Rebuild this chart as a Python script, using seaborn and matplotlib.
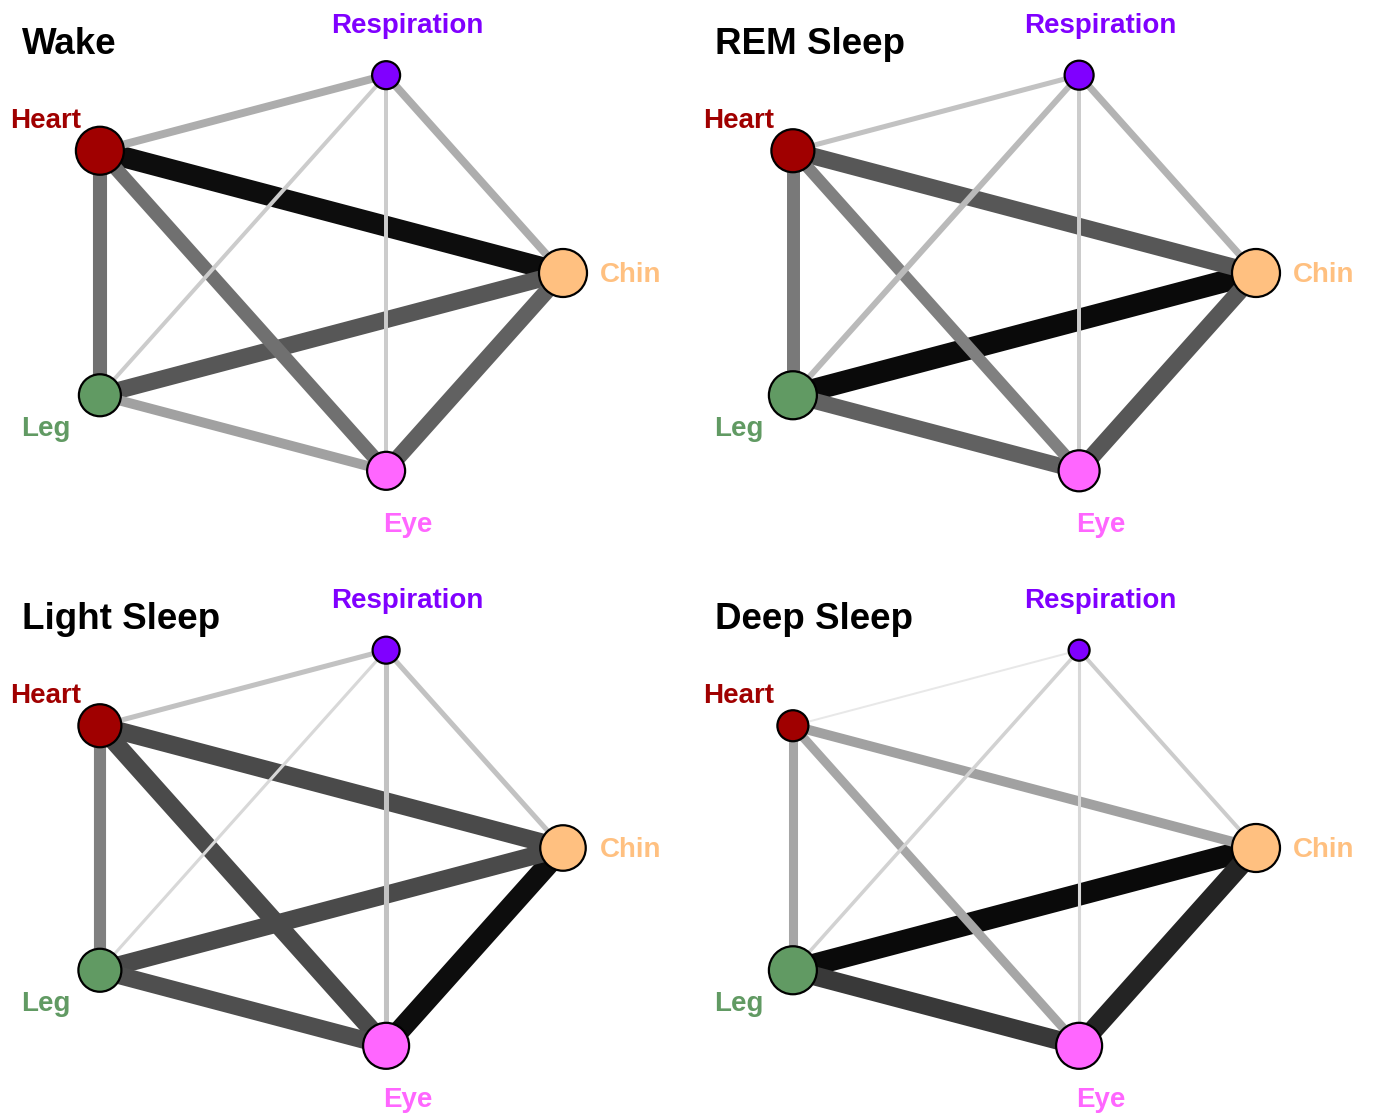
import numpy as np
import pandas as pd
import matplotlib
matplotlib.use("Agg")
import matplotlib.pyplot as plt
import seaborn as sns

sns.set_theme(style="white")
plt.rcParams["font.family"] = ["Liberation Sans", "DejaVu Sans"]

# ---- data -------------------------------------------------------------
stages = ["Wake", "REM Sleep", "Light Sleep", "Deep Sleep"]

# signals, listed counter-clockwise starting from the right-hand vertex
signals = ["Chin", "Respiration", "Heart", "Leg", "Eye"]
signal_colors = ["#FFC080", "#8000FF", "#A00000", "#619A63", "#FF66FF"]

edge_pairs = [
    ("Heart", "Respiration"), ("Heart", "Chin"), ("Heart", "Leg"), ("Heart", "Eye"),
    ("Respiration", "Chin"), ("Respiration", "Leg"), ("Respiration", "Eye"),
    ("Chin", "Leg"), ("Chin", "Eye"), ("Leg", "Eye"),
]

# coupling strength of each pair (same order as edge_pairs)
wake_edges = [0.36, 0.95, 0.64, 0.64, 0.36, 0.18, 0.18, 0.77, 0.73, 0.45]
rem_edges = [0.23, 0.77, 0.59, 0.55, 0.32, 0.27, 0.18, 1.00, 0.77, 0.73]
light_edges = [0.23, 0.82, 0.55, 0.82, 0.23, 0.14, 0.23, 0.82, 0.95, 0.80]
deep_edges = [0.09, 0.45, 0.41, 0.41, 0.18, 0.16, 0.14, 1.00, 0.91, 0.86]

# node strength per signal (same order as signals)
wake_nodes = [1.00, 0.60, 1.00, 0.88, 0.80]
rem_nodes = [1.00, 0.62, 0.90, 1.00, 0.86]
light_nodes = [0.95, 0.58, 0.90, 0.90, 0.96]
deep_nodes = [1.00, 0.46, 0.66, 1.00, 0.96]

stage_edges = [wake_edges, rem_edges, light_edges, deep_edges]
stage_nodes = [wake_nodes, rem_nodes, light_nodes, deep_nodes]

# ---- layout & scales --------------------------------------------------
W, H = 1373, 1117
PT = 0.72                      # points per pixel at 100 dpi
panel_origin = [(0, 0), (693, 0), (0, 575), (693, 575)]
cx, cy, rx, ry = 307, 273, 256, 208
angles = np.deg2rad([0, 72, 144, 216, 288])

MAX_EDGE_PX = 22
MAX_NODE_R = 25
gray_knots = [0.0, 0.09, 0.18, 0.27, 0.36, 0.45, 0.55, 0.64, 0.73, 0.82, 0.91, 0.95, 1.0]
gray_levels = [0.95, 0.91, 0.80, 0.73, 0.68, 0.63, 0.50, 0.44, 0.38, 0.29, 0.14, 0.05, 0.04]

label_offsets = {
    "Respiration": (21, -42, "center"),
    "Heart": (-54, -23, "center"),
    "Chin": (37, 9, "left"),
    "Leg": (-54, 41, "center"),
    "Eye": (22, 61, "center"),
}
color_of = dict(zip(signals, signal_colors))

fig = plt.figure(figsize=(W / 100, H / 100), dpi=100)
ax = fig.add_axes([0, 0, 1, 1])

for stage, weights, strengths, (ox, oy) in zip(stages, stage_edges, stage_nodes, panel_origin):
    px = ox + cx + rx * np.cos(angles)
    py = oy + cy - ry * np.sin(angles)
    pos = {s: (x, y) for s, x, y in zip(signals, px, py)}

    rows = []
    for (a, b), w in zip(edge_pairs, weights):
        name = f"{a}-{b}"
        rows.append(dict(edge=name, x=pos[a][0], y=pos[a][1]))
        rows.append(dict(edge=name, x=pos[b][0], y=pos[b][1]))
    edges = pd.DataFrame(rows)

    names = [f"{a}-{b}" for a, b in edge_pairs]
    order = [n for n, _ in sorted(zip(names, weights), key=lambda t: -t[1])]
    palette = {n: str(float(np.interp(w, gray_knots, gray_levels))) for n, w in zip(names, weights)}
    widths = {n: w * MAX_EDGE_PX * PT for n, w in zip(names, weights)}

    sns.lineplot(data=edges, x="x", y="y", hue="edge", size="edge",
                 hue_order=order, size_order=order, palette=palette, sizes=widths,
                 estimator=None, sort=False, legend=False, ax=ax, zorder=1)

    nodes = pd.DataFrame(dict(signal=signals, x=px, y=py))
    sizes = {s: (2 * (v * MAX_NODE_R - 1) * PT) ** 2 for s, v in zip(signals, strengths)}
    sns.scatterplot(data=nodes, x="x", y="y", hue="signal", size="signal",
                    hue_order=signals, size_order=signals, palette=color_of, sizes=sizes,
                    edgecolor="black", linewidth=1.6, alpha=1, legend=False, ax=ax, zorder=3)

    for s in signals:
        dx, dy, ha = label_offsets[s]
        ax.text(pos[s][0] + dx, pos[s][1] + dy, s, color=color_of[s], fontsize=20,
                fontweight="bold", ha=ha, va="baseline", zorder=4)

    ax.text(ox + 22, oy + 54, stage, color="black", fontsize=26.5, fontweight="bold",
            ha="left", va="baseline", zorder=4)

ax.set_xlim(0, W)
ax.set_ylim(H, 0)
ax.set_axis_off()

fig.savefig("out.png", dpi=100)
